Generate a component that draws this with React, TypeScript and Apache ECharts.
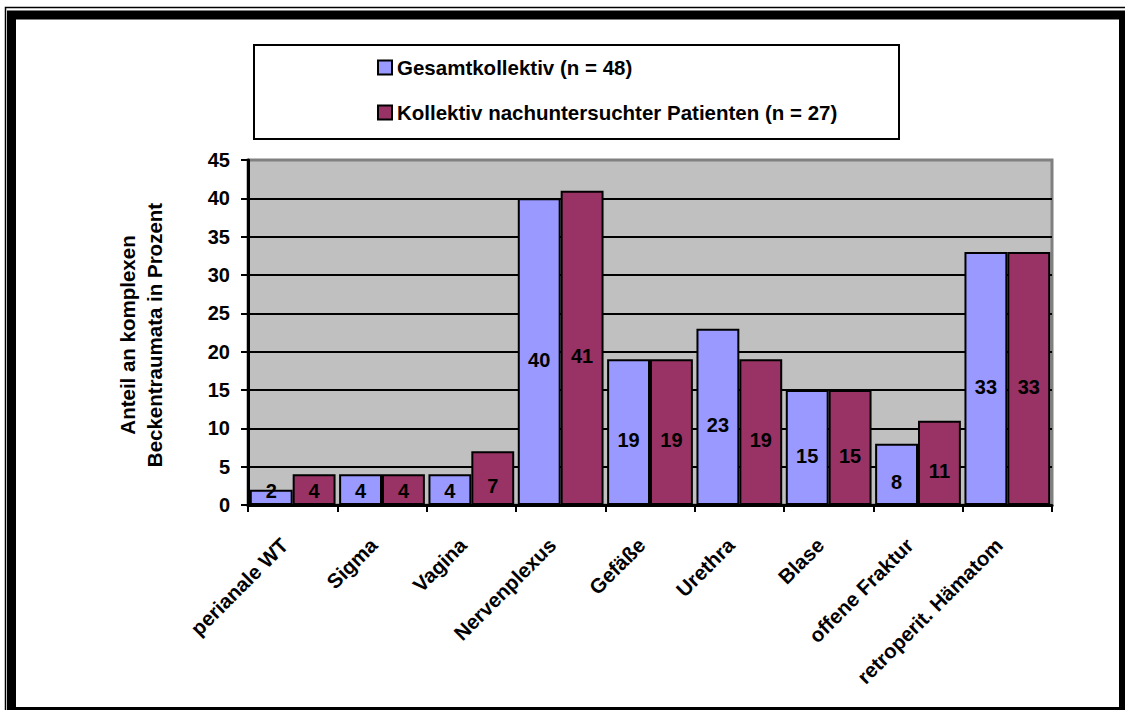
import React, { useEffect, useRef } from "react";
import * as echarts from "echarts";

const categories = [
  "perianale WT",
  "Sigma",
  "Vagina",
  "Nervenplexus",
  "Gefäße",
  "Urethra",
  "Blase",
  "offene Fraktur",
  "retroperit. Hämatom",
];
const seriesNames = [
  "Gesamtkollektiv (n = 48)",
  "Kollektiv nachuntersuchter Patienten (n = 27)",
];
const gesamt = [2, 4, 4, 40, 19, 23, 15, 8, 33];
const nachuntersucht = [4, 4, 7, 41, 19, 19, 15, 11, 33];
const yTitle = "Anteil an komplexen\nBeckentraumata in Prozent";

const FONT = "'Liberation Sans', Arial, sans-serif";
const GRID_TOP = 160;
const GRID_BOTTOM_Y = 505;
const Y_MAX = 45;
const PX_PER_UNIT = (GRID_BOTTOM_Y - GRID_TOP) / Y_MAX;

function labelled(values: number[]) {
  return values.map((v) => ({
    value: v,
    label: { offset: [0, Math.min(8, (v * PX_PER_UNIT) / 2 - 14)] },
  }));
}

export default function App() {
  const ref = useRef<HTMLDivElement>(null);
  useEffect(() => {
    document.body.style.margin = "0";
    const chart = echarts.init(ref.current!, null, { renderer: "svg" });
    const barLabel = {
      show: true,
      position: "inside",
      color: "#000",
      fontSize: 20,
      fontWeight: "bold",
      fontFamily: FONT,
    };
    chart.setOption({
      animation: false,
      backgroundColor: "#fff",
      textStyle: { fontFamily: FONT },
      graphic: [
        {
          type: "rect",
          shape: { x: 5.5, y: 7.5, width: 1130, height: 710 },
          style: { fill: "none", stroke: "#000", lineWidth: 1.5 },
          silent: true,
        },
        {
          type: "rect",
          shape: { x: 11.5, y: 15, width: 1112, height: 696.5 },
          style: { fill: "none", stroke: "#000", lineWidth: 9 },
          silent: true,
        },
        {
          type: "rect",
          shape: { x: 254, y: 45, width: 645, height: 94 },
          style: { fill: "#fff", stroke: "#000", lineWidth: 2 },
          silent: true,
          z: -1,
        },
        {
          type: "text",
          x: 141,
          y: 335,
          rotation: Math.PI / 2,
          style: {
            text: yTitle,
            fontSize: 20.5,
            fontWeight: "bold",
            fontFamily: FONT,
            fill: "#000",
            align: "center",
            verticalAlign: "middle",
            lineHeight: 27,
          },
        },
      ],
      legend: {
        orient: "vertical",
        left: 377,
        top: 57,
        padding: 0,
        itemGap: 24,
        itemWidth: 14,
        itemHeight: 14,
        icon: "rect",
        itemStyle: { borderColor: "#000", borderWidth: 2 },
        textStyle: { fontSize: 20.5, fontWeight: "bold", color: "#000", fontFamily: FONT },
        data: seriesNames,
      },
      grid: {
        left: 248,
        right: 73,
        top: GRID_TOP,
        bottom: 710 - GRID_BOTTOM_Y,
        show: true,
        backgroundColor: "#C0C0C0",
        borderColor: "#808080",
        borderWidth: 3,
      },
      xAxis: {
        type: "category",
        data: categories,
        axisLine: { lineStyle: { color: "#000", width: 3 } },
        axisTick: { show: true, length: 7, lineStyle: { color: "#000", width: 2 } },
        axisLabel: {
          rotate: 45,
          margin: 28,
          padding: [0, 12, 0, 0],
          interval: 0,
          fontSize: 20.5,
          fontWeight: "bold",
          color: "#000",
          fontFamily: FONT,
        },
      },
      yAxis: {
        type: "value",
        min: 0,
        max: Y_MAX,
        interval: 5,
        axisLine: { show: true, lineStyle: { color: "#000", width: 3 } },
        axisTick: { show: true, length: 7, lineStyle: { color: "#000", width: 2 } },
        axisLabel: {
          margin: 18,
          fontSize: 20,
          fontWeight: "bold",
          color: "#000",
          fontFamily: FONT,
        },
        splitLine: {
          show: true,
          showMaxLine: false,
          lineStyle: { color: "#000", width: 2 },
        },
      },
      series: [
        {
          name: seriesNames[0],
          type: "bar",
          data: labelled(gesamt),
          barGap: "0%",
          barCategoryGap: "4%",
          itemStyle: { color: "#9999FF", borderColor: "#000", borderWidth: 2 },
          label: barLabel,
        },
        {
          name: seriesNames[1],
          type: "bar",
          data: labelled(nachuntersucht),
          itemStyle: { color: "#993366", borderColor: "#000", borderWidth: 2 },
          label: barLabel,
        },
      ],
    });
    return () => chart.dispose();
  }, []);
  return <div ref={ref} style={{ width: 1125, height: 710 }} />;
}
